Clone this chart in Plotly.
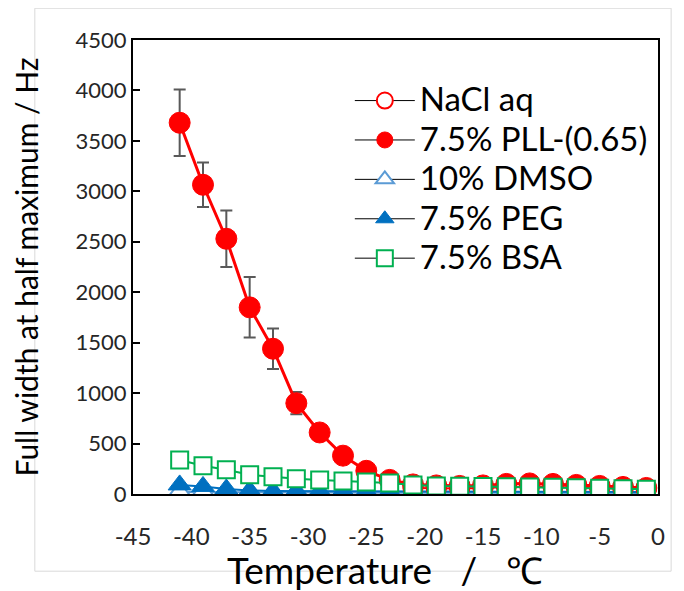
import plotly.graph_objects as go

temps = [-41, -39, -37, -35, -33, -31, -29, -27, -25, -23, -21,
         -19, -17, -15, -13, -11, -9, -7, -5, -3, -1]
temps_nacl = [-21, -19, -17, -15, -13, -11, -9, -7, -5, -3, -1]

nacl = [60, 55, 55, 60, 70, 75, 70, 65, 60, 55, 50]
pll = [3680, 3065, 2530, 1850, 1440, 900, 610, 380, 230, 140, 95,
       85, 80, 85, 100, 105, 100, 90, 80, 70, 60]
pll_err = [330, 220, 280, 300, 200, 110, 70, 40, 30, 20, 15,
           10, 10, 10, 10, 10, 10, 10, 10, 10, 10]
dmso = [20, 20, 18, 18, 16, 15, 15, 14, 14, 13, 12,
        12, 12, 11, 11, 10, 10, 10, 10, 10, 10]
peg = [90, 75, 50, 35, 30, 30, 28, 28, 26, 25, 25,
       24, 24, 23, 23, 22, 22, 21, 21, 20, 20]
bsa = [337, 280, 240, 190, 170, 150, 140, 130, 120, 110, 90,
       80, 78, 75, 72, 70, 66, 62, 58, 52, 46]

x_ticks = [-45, -40, -35, -30, -25, -20, -15, -10, -5, 0]
y_ticks = [0, 500, 1000, 1500, 2000, 2500, 3000, 3500, 4000, 4500]

names = ["NaCl aq", "7.5% PLL-(0.65)", "10% DMSO", "7.5% PEG", "7.5% BSA"]
x_title = "Temperature   /   ℃"
y_title = "Full width at half maximum / Hz"

RED = "#FF0000"
BLUE = "#0070C0"
LBLUE = "#5B9BD5"
GREEN = "#00B050"
FONT = "Lato, Carlito, Liberation Sans, sans-serif"

fig = go.Figure()

# data traces (no legend)
fig.add_trace(go.Scatter(x=temps, y=dmso, mode="lines+markers", showlegend=False,
                         line=dict(color=LBLUE, width=2),
                         marker=dict(symbol="triangle-up", size=20, color="white",
                                     line=dict(color=LBLUE, width=2))))
fig.add_trace(go.Scatter(x=temps, y=peg, mode="lines+markers", showlegend=False,
                         line=dict(color=BLUE, width=2),
                         marker=dict(symbol="triangle-up", size=20, color=BLUE,
                                     line=dict(color=BLUE, width=1))))
fig.add_trace(go.Scatter(x=temps_nacl, y=nacl, mode="lines+markers", showlegend=False,
                         line=dict(color=RED, width=2),
                         marker=dict(symbol="circle", size=19, color="white",
                                     line=dict(color=RED, width=2))))
fig.add_trace(go.Scatter(x=temps, y=pll, mode="lines+markers", showlegend=False,
                         line=dict(color=RED, width=3),
                         error_y=dict(type="data", array=pll_err, color="#595959",
                                      thickness=2, width=6),
                         marker=dict(symbol="circle", size=21, color=RED,
                                     line=dict(color=RED, width=1))))
fig.add_trace(go.Scatter(x=temps, y=bsa, mode="lines+markers", showlegend=False,
                         line=dict(color=GREEN, width=2),
                         marker=dict(symbol="square", size=17, color="white",
                                     line=dict(color=GREEN, width=2))))

# legend entries (black connector line, coloured marker)
leg_markers = [
    dict(symbol="circle", size=19, color="white", line=dict(color=RED, width=2)),
    dict(symbol="circle", size=21, color=RED, line=dict(color=RED, width=1)),
    dict(symbol="triangle-up", size=20, color="white", line=dict(color=LBLUE, width=2)),
    dict(symbol="triangle-up", size=20, color=BLUE, line=dict(color=BLUE, width=1)),
    dict(symbol="square", size=17, color="white", line=dict(color=GREEN, width=2)),
]
for nm, mk in zip(names, leg_markers):
    fig.add_trace(go.Scatter(x=[None], y=[None], mode="lines+markers",
                             name=f'<span style="font-size:33px">{nm}</span>',
                             line=dict(color="black", width=1), marker=mk))

# outer light-gray chart frame
fig.add_shape(type="rect", xref="paper", yref="paper",
              x0=-0.187, x1=1.025, y0=-0.17, y1=1.07,
              line=dict(color="#D9D9D9", width=1), layer="below")

# x axis title
fig.add_annotation(text=x_title, xref="paper", yref="paper", x=0.48, y=-0.166,
                   showarrow=False, xanchor="center", yanchor="middle",
                   font=dict(size=37, family=FONT, color="black"))

fig.update_layout(
    width=676, height=583,
    margin=dict(l=125, r=26, t=32, b=97),
    paper_bgcolor="white", plot_bgcolor="white",
    font=dict(family=FONT, color="#262626"),
    showlegend=True,
    legend=dict(x=0.413, y=0.921, xanchor="left", yanchor="top",
                font=dict(size=28, color="black", family=FONT),
                bgcolor="rgba(0,0,0,0)", itemwidth=60),
    xaxis=dict(range=[-45, 0], tickvals=x_ticks, ticktext=[str(v) for v in x_ticks],
               showgrid=False, zeroline=False, showline=True, linecolor="black",
               linewidth=2, mirror=True, ticks="", ticklabelstandoff=20,
               tickfont=dict(size=24, family=FONT, color="#262626")),
    yaxis=dict(range=[0, 4500], tickvals=y_ticks, ticktext=[str(v) for v in y_ticks],
               showgrid=False, zeroline=False, showline=True, linecolor="black",
               linewidth=2, mirror=True, ticks="inside", ticklen=7, tickwidth=1.5,
               tickcolor="black", automargin=False,
               tickfont=dict(size=22, family=FONT, color="#262626"),
               title=dict(text=y_title, standoff=30,
                          font=dict(size=30, family=FONT, color="black"))),
)

fig.write_html("out.html")
